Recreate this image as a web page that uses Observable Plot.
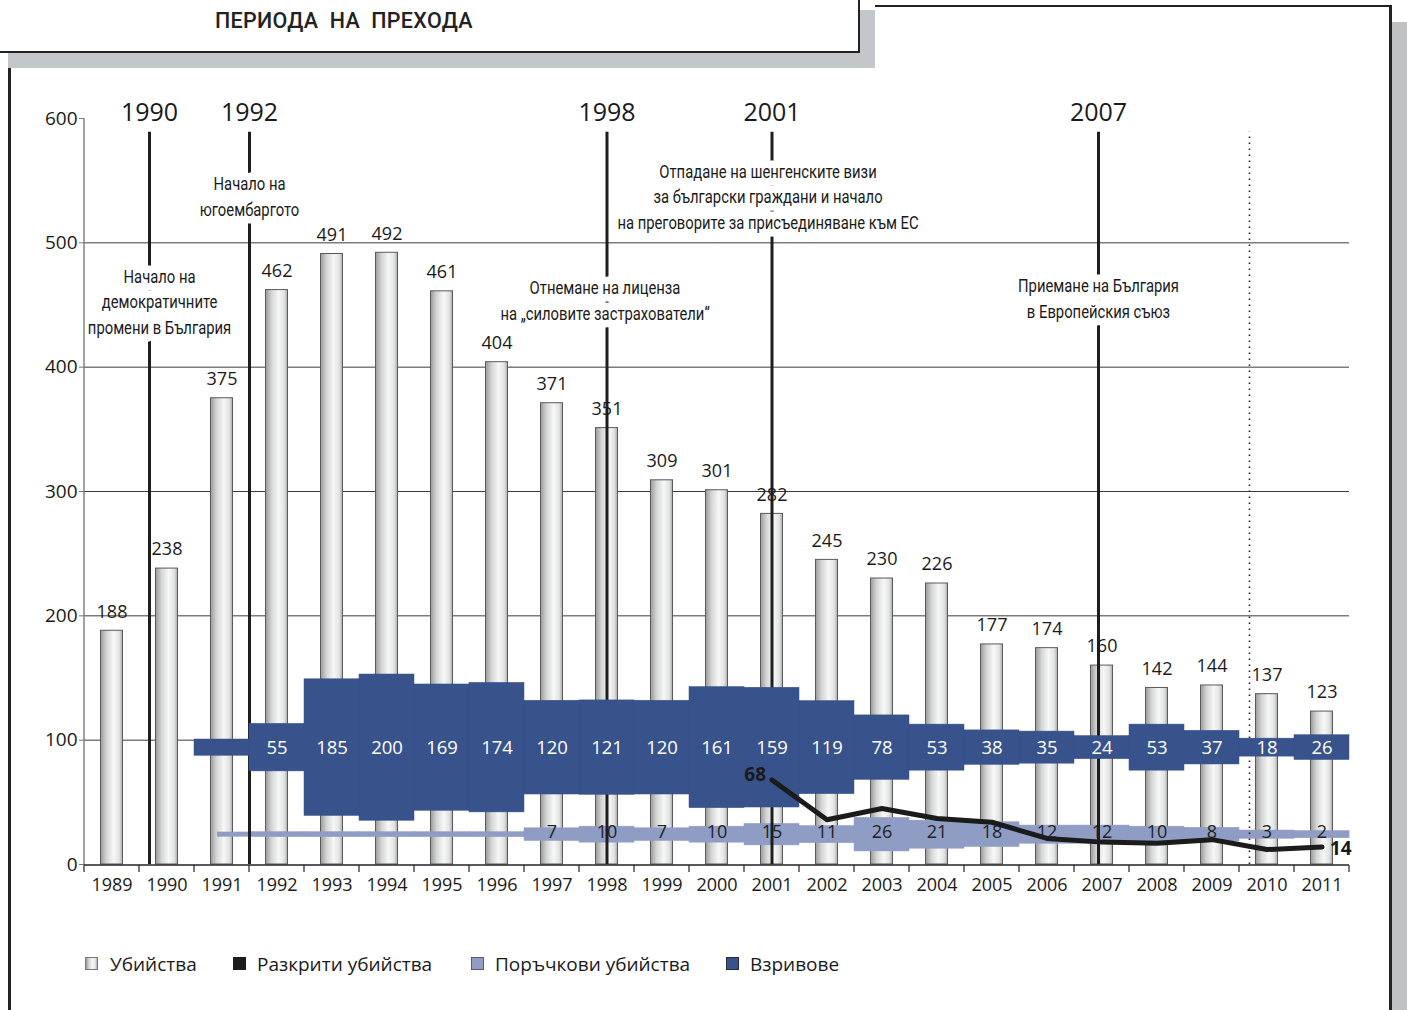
<!DOCTYPE html>
<html><head><meta charset="utf-8">
<script src="https://cdn.jsdelivr.net/npm/d3@7"></script>
<script src="https://cdn.jsdelivr.net/npm/@observablehq/plot@0.6"></script>
<style>
html,body{margin:0;padding:0;background:#fff;}
#page{position:relative;width:1407px;height:1010px;overflow:hidden;font-family:"Open Sans","Noto Sans",sans-serif;color:#1a1a1a;}
.abs{position:absolute;}
#chart{position:absolute;left:0;top:0;}
.title{left:215px;top:7px;font-family:Roboto,sans-serif;font-size:21.5px;font-weight:500;white-space:pre;letter-spacing:0.3px;color:#222;line-height:28px;}
.leg{position:absolute;top:952px;height:24px;line-height:24px;font-size:19px;white-space:nowrap;}
.sw{position:absolute;left:0;top:5px;width:13px;height:13px;border:1px solid #666;box-sizing:border-box;}
.lt{position:absolute;top:0;}
</style></head><body>
<div id="page">
  <div class="abs" style="left:8px;top:10px;width:867px;height:58px;background:#c4c7c9"></div>
  <div class="abs" style="left:0;top:0;width:858px;height:51px;background:#fff;border-right:2px solid #222;border-bottom:2px solid #222"></div>
  <div class="abs title">ПЕРИОДА  НА  ПРЕХОДА</div>
  <div class="abs" style="left:875px;top:5px;width:517px;height:2px;background:#222"></div>
  <div class="abs" style="left:1389px;top:5px;width:3px;height:1005px;background:#222"></div>
  <div class="abs" style="left:1392px;top:22px;width:15px;height:988px;background:#bfc1c2"></div>
  <div class="abs" style="left:8px;top:68px;width:3px;height:942px;background:#222"></div>
  <div id="chart"></div>
  <div id="legend"></div>
</div>
<script>
// ---------- data ----------
const years = ["1989","1990","1991","1992","1993","1994","1995","1996","1997","1998","1999","2000","2001","2002","2003","2004","2005","2006","2007","2008","2009","2010","2011"];
const murders = [188,238,375,462,491,492,461,404,371,351,309,301,282,245,230,226,177,174,160,142,144,137,123];

const explosionYears = ["1991","1992","1993","1994","1995","1996","1997","1998","1999","2000","2001","2002","2003","2004","2005","2006","2007","2008","2009","2010","2011"];
const explosions = [16,55,185,200,169,174,120,121,120,161,159,119,78,53,38,35,24,53,37,18,26];
const explosionLabelFrom = "1992"; // the 1991 step carries no figure

const contractBaseYears = ["1991","1992","1993","1994","1995","1996","1997","1998","1999","2000","2001","2002","2003","2004","2005","2006","2007","2008","2009","2010","2011"];
const contractYears = ["1997","1998","1999","2000","2001","2002","2003","2004","2005","2006","2007","2008","2009","2010","2011"];
const contract = [7,10,7,10,15,11,26,21,18,12,12,10,8,3,2];

const solvedYears = ["2001","2002","2003","2004","2005","2006","2007","2008","2009","2010","2011"];
const solved = [68,36,45,37,34,21,18,17,20,12,14];

const eventYears = ["1990","1992","1998","2001","2007"];
const eventTexts = [
  "Начало на\nдемократичните\nпромени в България",
  "Начало на\nюгоембаргото",
  "Отнемане на лиценза\nна „силовите застрахователи“",
  "Отпадане на шенгенските визи\nза български граждани и начало\nна преговорите за присъединяване към ЕС",
  "Приемане на България\nв Европейския съюз"
];
const dottedYear = "2010";
const yTicks = [0,100,200,300,400,500,600];
const gridValues = [100,200,300,400,500];

const legendItems = ["Убийства","Разкрити убийства","Поръчкови убийства","Взривове"];

// ---------- layout / style ----------
const W = 1407, H = 930;
const mL = 84, mR = 58, mT = 118, mB = H - 864;
const pxPerUnit = (H - mB - mT) / 600;
const DARK = "#38528c", LIGHT = "#8f9dc5", INK = "#1a1a1a";
const numFont = '"Open Sans","Noto Sans",sans-serif';
const condFont = 'Roboto,sans-serif';
const condScale = 0.8;
const darkCenter = 94, lightCenter = 24;
const darkHalf = v => 0.5 * 1.456 * Math.pow(v, 0.87) / pxPerUnit;
const lightHalf = v => 0.5 * (5 + 1.1 * v) / pxPerUnit;
const ruleTop = 589;
// horizontal placement of event lines relative to the band centre (px)
const ruleDx = {"1990": -17.5, "1992": -27.5, "1998": 0, "2001": 0, "2007": -3.5, "2010": -17.5};
const textDx = {"1990": 10, "1992": 0, "1998": -2, "2001": -4, "2007": 0};
const textLevel = {"1990": 454, "1992": 538.5, "1998": 454.8, "2001": 538.5, "2007": 456.4};

// ---------- rows ----------
const murderRows = years.map((y, i) => ({year: y, value: murders[i]}));
const explosionRows = explosionYears.map((y, i) => ({year: y, value: explosions[i]}));
const contractRows = contractYears.map((y, i) => ({year: y, value: contract[i]}));
const baseRows = contractBaseYears.map(y => ({year: y}));
const solvedRows = solvedYears.map((y, i) => ({year: y, value: solved[i]}));
const events = eventYears.map((y, i) => ({year: y, text: eventTexts[i]}));

const defs = () => {
  const d = d3.create("svg:defs");
  const g = d.append("linearGradient").attr("id", "barGrad").attr("x1", 0).attr("x2", 1).attr("y1", 0).attr("y2", 0);
  [[0, "#9a9a9a"], [0.28, "#d6d6d6"], [0.6, "#f6f7f8"], [0.85, "#e3e3e3"], [1, "#ababab"]]
    .forEach(([o, c]) => g.append("stop").attr("offset", o).attr("stop-color", c));
  return d.node();
};

const axisLines = (index, scales, values, dims) => {
  const g = d3.create("svg:g");
  const x0 = dims.marginLeft, x1 = dims.width - dims.marginRight;
  const y0 = scales.y(0), yT = scales.y(600);
  g.append("line").attr("x1", x0).attr("x2", x0).attr("y1", yT).attr("y2", y0 + 1)
    .attr("stroke", "#7a7a7a").attr("stroke-width", 1.4);
  g.append("line").attr("x1", x0).attr("x2", x1).attr("y1", y0 + 1).attr("y2", y0 + 1)
    .attr("stroke", "#222").attr("stroke-width", 1.4);
  const bounds = years.map(y => scales.x(y)).concat([x1]);
  bounds.forEach(bx => g.append("line").attr("x1", bx).attr("x2", bx).attr("y1", y0 + 1).attr("y2", y0 + 8)
    .attr("stroke", "#222").attr("stroke-width", 1.2));
  return g.node();
};

const eventMarks = events.map(e =>
  Plot.ruleX([e], {x: "year", y1: 0, y2: ruleTop, dx: ruleDx[e.year], stroke: "#1e1e1e", strokeWidth: 3})
);
const eventTextMarks = events.flatMap(e => [
  Plot.text([e], {x: "year", y: textLevel[e.year], text: "text", dx: ruleDx[e.year] + textDx[e.year],
    fontFamily: condFont, fontSize: 18.5, lineHeight: 1.38, fill: INK, stroke: "white", strokeWidth: 15}),
  Plot.text([e], {x: "year", y: 604.5, text: "year", dx: ruleDx[e.year], fontFamily: numFont, fontSize: 25, fill: INK})
]);

const chart = Plot.plot({
  width: W, height: H,
  marginLeft: mL, marginRight: mR, marginTop: mT, marginBottom: mB,
  style: {background: "transparent", overflow: "visible", fontFamily: numFont, color: INK},
  x: {type: "band", domain: years, padding: 0},
  y: {domain: [0, 600]},
  marks: [
    defs,
    Plot.ruleY(gridValues, {stroke: "#3c3c3c", strokeWidth: 1}),
    Plot.barY(murderRows, {x: "year", y: "value", fill: "url(#barGrad)", stroke: "#5a5a5a", strokeWidth: 1, insetLeft: 16.5, insetRight: 16.5}),
    // contract killings band
    Plot.barY(baseRows.filter(d => d.year !== contractBaseYears[0]), {x: "year", y1: lightCenter - lightHalf(0), y2: lightCenter + lightHalf(0), fill: LIGHT, stroke: LIGHT, strokeWidth: 0.5}),
    Plot.barY(baseRows.filter(d => d.year === contractBaseYears[0]), {x: "year", y1: lightCenter - lightHalf(0), y2: lightCenter + lightHalf(0), fill: LIGHT, insetLeft: 23}),
    Plot.barY(contractRows, {x: "year", y1: d => lightCenter - lightHalf(d.value), y2: d => lightCenter + lightHalf(d.value), fill: LIGHT, stroke: LIGHT, strokeWidth: 0.5}),
    Plot.text(contractRows, {x: "year", y: lightCenter + 1.6, text: d => String(d.value), fontSize: 18, fill: "#222"}),
    // event lines
    ...eventMarks,
    Plot.ruleX([dottedYear], {dx: ruleDx[dottedYear], y1: 0, y2: ruleTop, stroke: "#222", strokeWidth: 1.6, strokeDasharray: "1.6,4.4"}),
    Plot.text(murderRows, {x: "year", y: "value", text: d => String(d.value), dy: -19, fontSize: 18, fill: INK}),
    // explosions band
    Plot.barY(explosionRows, {x: "year", y1: d => darkCenter - darkHalf(d.value), y2: d => darkCenter + darkHalf(d.value), fill: DARK, stroke: DARK, strokeWidth: 0.5}),
    Plot.text(explosionRows.filter(d => +d.year >= +explosionLabelFrom), {x: "year", y: darkCenter, text: d => String(d.value), fontSize: 18.5, fill: "white"}),
    // solved murders line
    Plot.line(solvedRows, {x: "year", y: "value", stroke: "#1b1b1b", strokeWidth: 5, strokeLinejoin: "round", strokeLinecap: "round"}),
    Plot.text([solvedRows[0]], {x: "year", y: "value", text: d => String(d.value), dx: -6, dy: -5, textAnchor: "end", fontWeight: "bold", fontSize: 19, fill: INK}),
    Plot.text([solvedRows[solvedRows.length - 1]], {x: "year", y: "value", text: d => String(d.value), dx: 8, dy: 2, textAnchor: "start", fontWeight: "bold", fontSize: 19, fill: INK}),
    ...eventTextMarks,
    axisLines,
    Plot.axisY({ticks: yTicks, tickSize: 5, tickPadding: 2, fontSize: 19, stroke: "#7a7a7a", fill: INK, label: null, tickFormat: d => String(d)}),
    Plot.axisX({tickSize: 0, tickPadding: 14, fontSize: 18, fill: INK, label: null})
  ]
});
document.getElementById("chart").appendChild(chart);

// horizontally condense the annotation text (no condensed face is installed)
chart.querySelectorAll("g").forEach(g => {
  if (g.getAttribute("font-family") !== condFont) return;
  g.querySelectorAll("text").forEach(t => {
    const tr = t.getAttribute("transform");
    if (tr) {
      t.setAttribute("transform", tr + ` scale(${condScale},1)`);
    } else {
      const x = +(t.getAttribute("x") || 0);
      t.setAttribute("transform", `translate(${x},0) scale(${condScale},1) translate(${-x},0)`);
    }
  });
});

// ---------- legend ----------
const legendLeft = [85, 233, 471, 726];
const legendSwatch = [
  "background:linear-gradient(90deg,#9a9a9a,#d6d6d6 28%,#f6f7f8 60%,#e3e3e3 85%,#ababab);border-color:#777",
  "background:#1d1d1f;border-color:#1d1d1f",
  "background:" + LIGHT + ";border-color:#5a5a6a",
  "background:" + DARK + ";border-color:#2a2a3a"
];
const leg = document.getElementById("legend");
legendItems.forEach((t, i) => {
  const d = document.createElement("div");
  d.className = "leg";
  d.style.left = legendLeft[i] + "px";
  d.innerHTML = '<span class="sw" style="' + legendSwatch[i] + '"></span><span class="lt" style="left:' + (i === 0 ? 25 : 24) + 'px">' + t + '</span>';
  leg.appendChild(d);
});
</script>
</body></html>
